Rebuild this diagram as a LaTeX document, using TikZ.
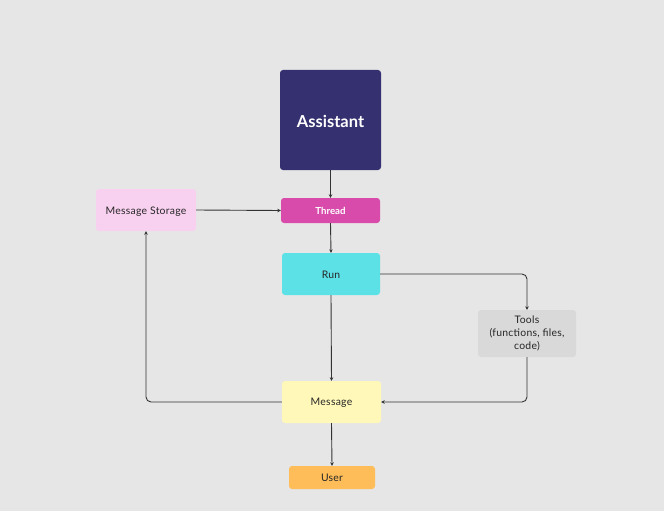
\documentclass[tikz,border=0pt]{standalone}
\usepackage{fontspec}
\setmainfont{Lato}
\newfontfamily\bodyfont{Lato}[LetterSpace=2.5]
\usetikzlibrary{arrows.meta}
\definecolor{bg}{HTML}{E6E6E6}
\definecolor{navy}{HTML}{35306F}
\definecolor{magenta}{HTML}{D84BAA}
\definecolor{cyanbox}{HTML}{5CE1E6}
\definecolor{pinkbox}{HTML}{F9D1F0}
\definecolor{graybox}{HTML}{D9D9D9}
\definecolor{yellowbox}{HTML}{FFF8B8}
\definecolor{orangebox}{HTML}{FFBD59}
\definecolor{linec}{HTML}{333333}
\newcommand{\lowered}[2]{\raisebox{#1}[\height][\depth]{#2}}
\tikzset{
  box/.style={draw=none, rounded corners=3pt, inner sep=0pt, align=center, font=\bodyfont\fontsize{10.4}{13}\selectfont, text=black!85},
  conn/.style={draw=linec, line width=0.9pt, -{Stealth[length=3.5pt,width=3.5pt]}, rounded corners=5pt}
}
\begin{document}
\begin{tikzpicture}[x=1pt,y=-1pt]
\fill[bg] (0,0) rectangle (664,511);
\useasboundingbox (0,0) rectangle (664,511);
\node[box, fill=navy, minimum width=101pt, minimum height=100pt, text=white, font=\fontsize{16.5}{19}\selectfont\bfseries] (assistant) at (330.5,120) {\lowered{-1.2pt}{Assistant}};
\node[box, fill=magenta, minimum width=99pt, minimum height=25pt, text=white, font=\fontsize{9.7}{11}\selectfont\bfseries] (thread) at (330.5,210.5) {\lowered{-0.5pt}{Thread}};
\node[box, fill=cyanbox, minimum width=98pt, minimum height=42pt] (run) at (331,274) {\lowered{-1pt}{Run}};
\node[box, fill=pinkbox, minimum width=100pt, minimum height=42pt] (storage) at (146,210) {\lowered{-1.5pt}{Message Storage}};
\node[box, fill=graybox, minimum width=98pt, minimum height=47pt] (tools) at (527,333.5) {Tools\\(functions, files,\\code)};
\node[box, fill=yellowbox, minimum width=99pt, minimum height=42pt] (message) at (331.5,402) {\lowered{-1pt}{Message}};
\node[box, fill=orangebox, minimum width=86pt, minimum height=23pt] (user) at (332,477.5) {\lowered{-0.5pt}{User}};
\draw[conn] (assistant.south) -- (thread.north);
\draw[conn] (thread.south) -- (run.north);
\draw[conn] (storage.east) -- (thread.west);
\draw[conn] (run.east) -| (tools.north);
\draw[conn] (tools.south) |- (message.east);
\draw[conn] (run.south) -- (message.north);
\draw[conn] (message.west) -| (storage.south);
\draw[conn] (message.south) -- (user.north);
\end{tikzpicture}
\end{document}
